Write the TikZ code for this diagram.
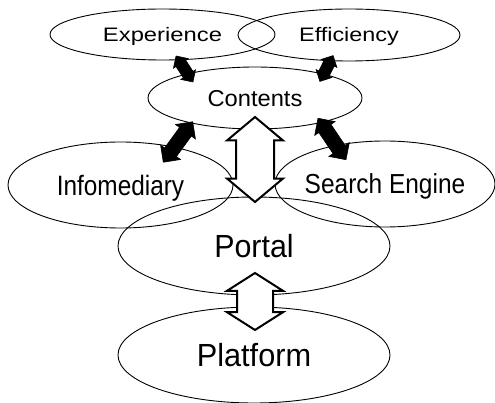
\documentclass[tikz,border=0pt]{standalone}
\usepackage{fontspec}
\setmainfont{Liberation Sans}
\usetikzlibrary{shapes.geometric,shapes.arrows}

% label centred on the caps, squeezed or stretched sideways
\newcommand{\lbl}[3]{\makebox[0pt]{\smash{\fontsize{#1}{#1}\selectfont\raisebox{-0.358em}{\scalebox{#2}[1]{#3}}}}}

\tikzset{
  oval/.style={draw, ellipse, line width=0.9pt, inner sep=0pt},
  darrow/.style={shape=double arrow, fill=black, draw=black, line width=0.6pt, inner xsep=0pt},
  warrow/.style={shape=double arrow, fill=white, draw=black, line width=2pt, inner xsep=0pt}
}

\begin{document}
\begin{tikzpicture}[x=1pt,y=-1pt]
\useasboundingbox (0,0) rectangle (495,403);
% the ovals
\node[oval, minimum width=225pt, minimum height=51pt] (experience) at (162.5,34.5) {\lbl{19.5pt}{1.22}{Experience}};
\node[oval, minimum width=222pt, minimum height=52pt] (efficiency) at (349,35) {\lbl{19.5pt}{1.2}{Efficiency}};
\node[oval, minimum width=214pt, minimum height=62pt] (contents) at (255,98) {\lbl{23pt}{1.03}{Contents}};
\node[oval, minimum width=225pt, minimum height=86pt] (infomediary) at (120.5,185) {\lbl{28pt}{0.87}{Infomediary}};
\node[oval, minimum width=220pt, minimum height=86pt] (search) at (385,184) {\lbl{27.5pt}{0.89}{Search Engine}};
\node[oval, minimum width=272pt, minimum height=98pt] (portal) at (254,246) {\lbl{32pt}{0.95}{Portal}};
\node[oval, minimum width=272pt, minimum height=96pt] (platform) at (254,355) {\lbl{32pt}{0.96}{Platform}};
% black double arrows
\foreach \n/\p/\r/\l/\s/\e in {expcont/{184.5,69}/-57/31/5.5/3, effcont/{326.5,68.5}/63/29/5.5/3, infocont/{178,142}/54/50/7/5, searchcont/{332,139}/-56/50/7/5}
  \node[darrow, rotate=\r, minimum height=\l pt, inner ysep=\s pt, double arrow head extend=\e pt] (\n) at (\p) {};
% white double arrows
\node[warrow, rotate=90, minimum height=85pt, inner ysep=18pt, double arrow head extend=9pt, double arrow tip angle=100] (contportal) at (255,159.5) {};
\node[warrow, rotate=90, minimum height=57pt, inner ysep=17pt, double arrow head extend=10pt, double arrow tip angle=115] (portplat) at (255,301.5) {};
\end{tikzpicture}
\end{document}
